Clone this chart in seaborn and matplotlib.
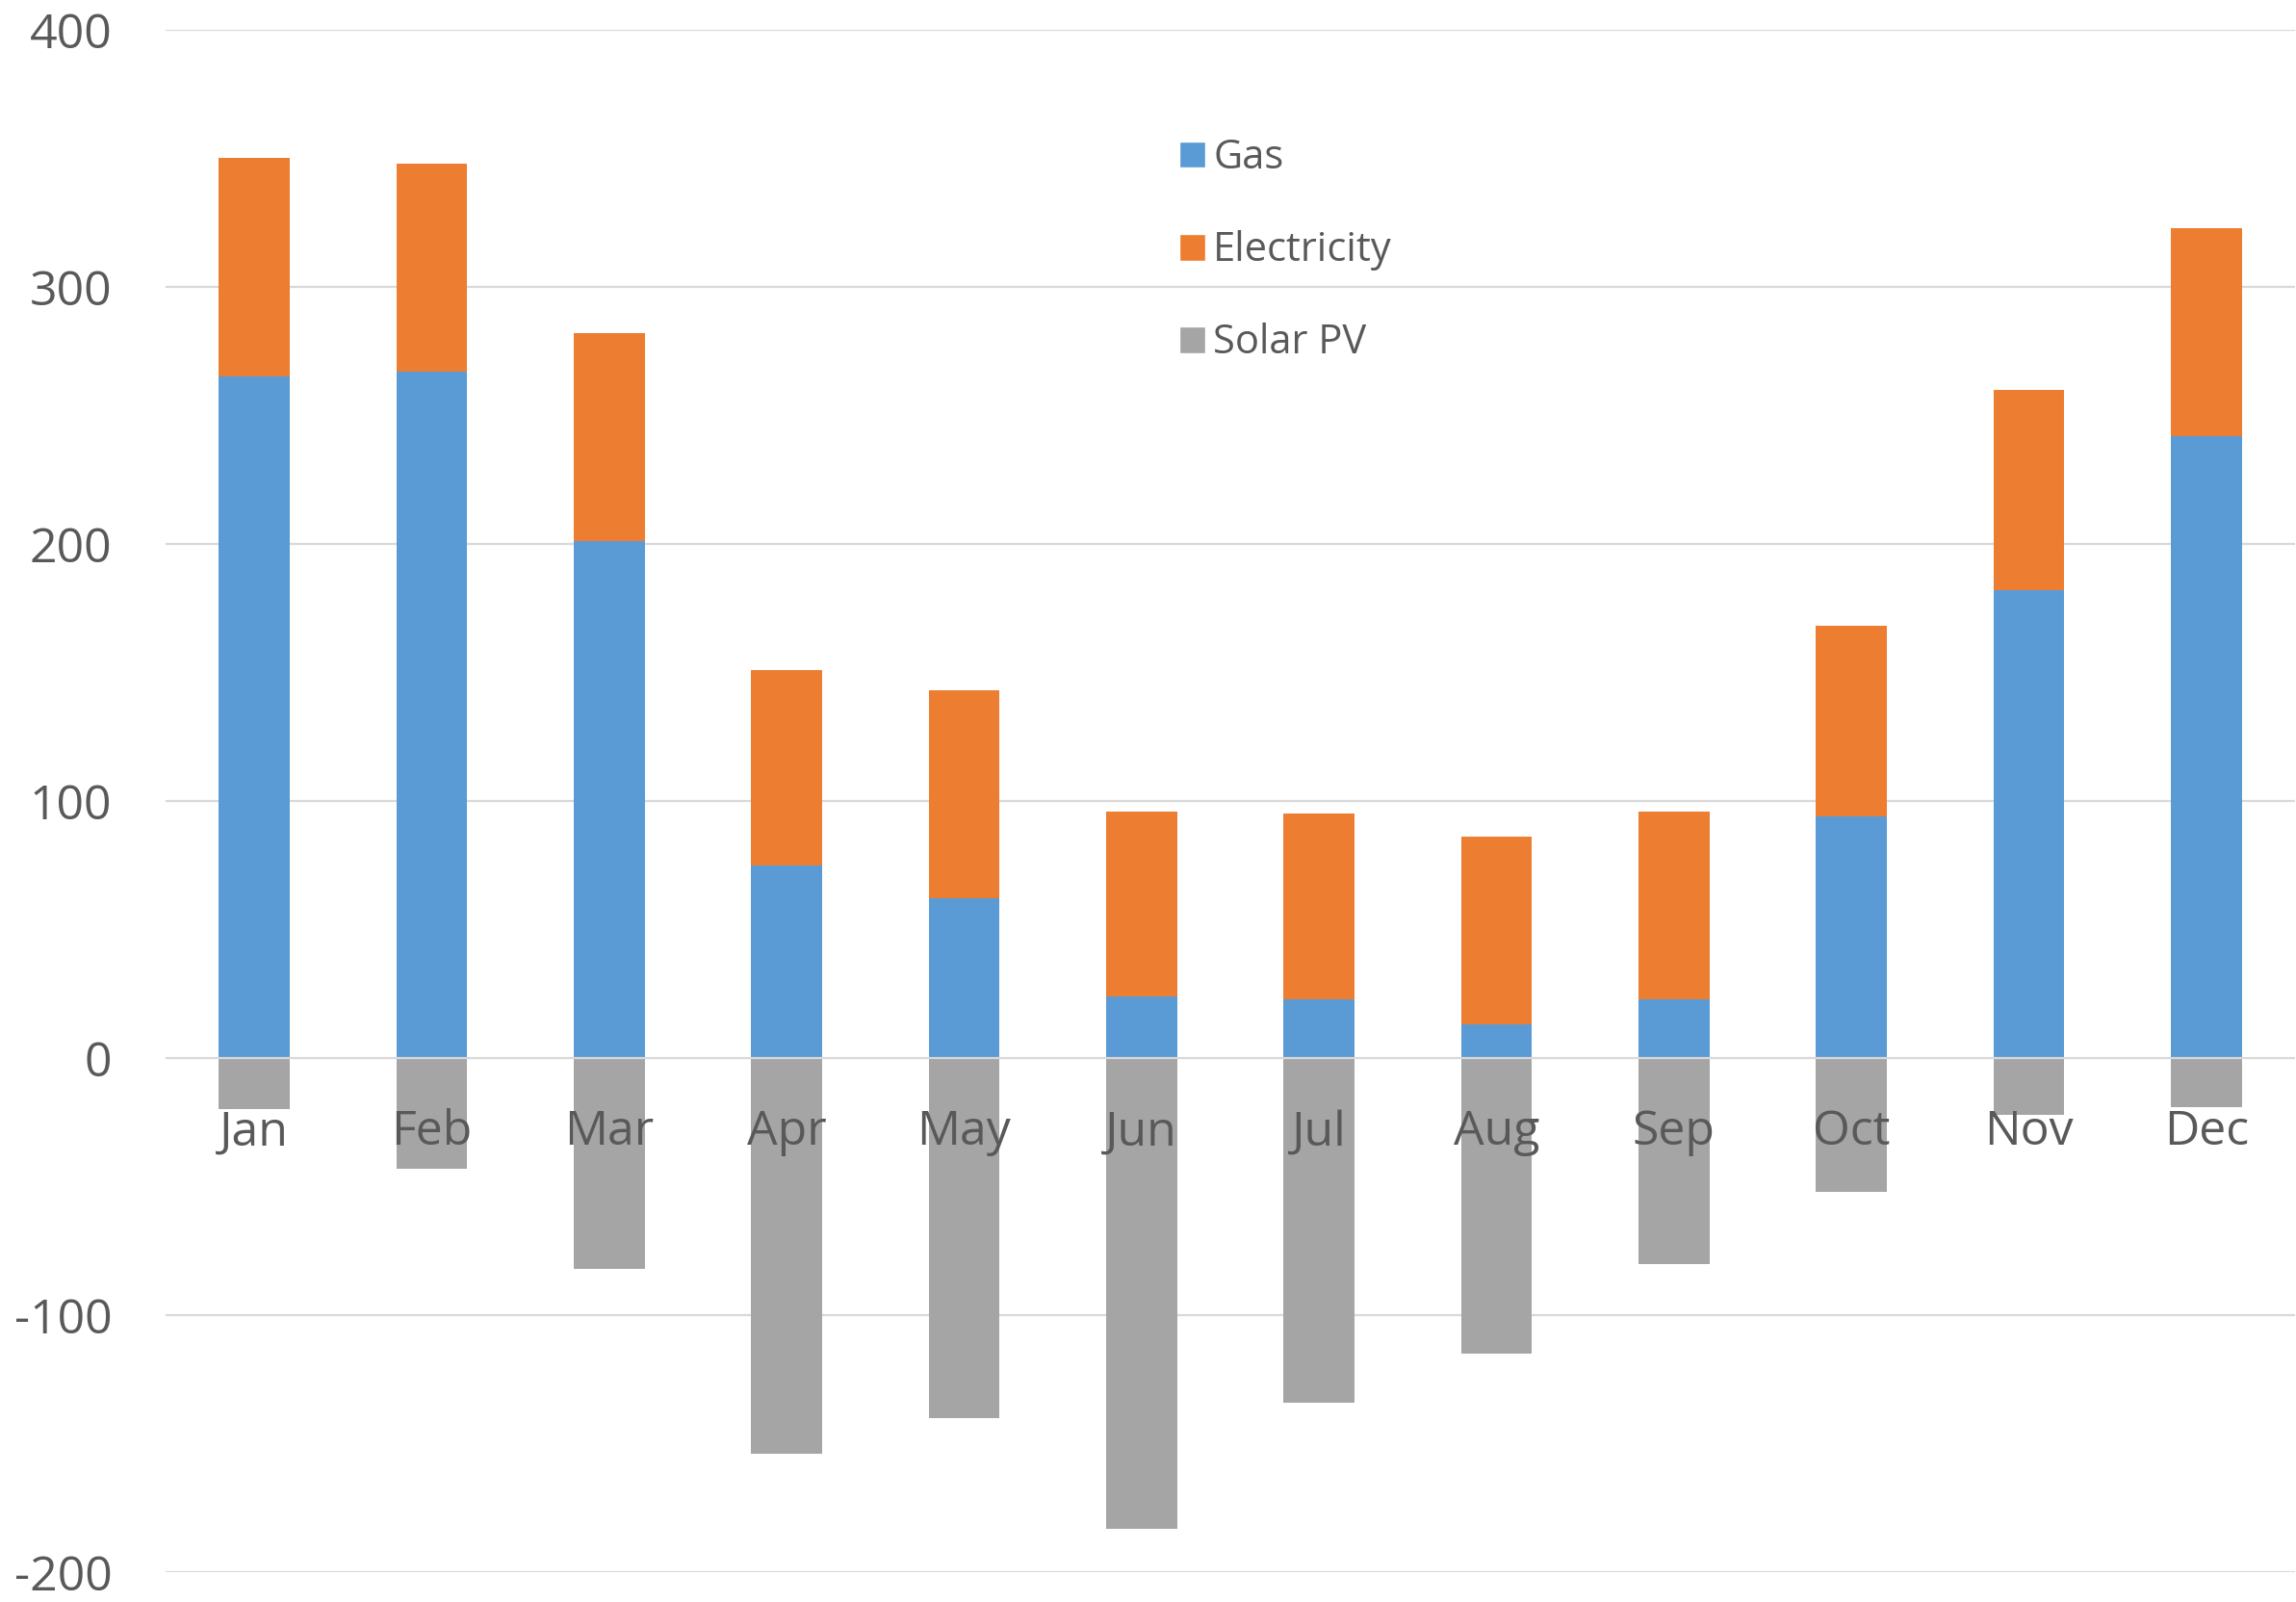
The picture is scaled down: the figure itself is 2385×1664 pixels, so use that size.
import matplotlib
matplotlib.use("Agg")
import matplotlib.pyplot as plt
from matplotlib.patches import Patch
import seaborn as sns

# Monthly energy balance (kWh): consumption stacked above zero, PV generation below
months = ["Jan", "Feb", "Mar", "Apr", "May", "Jun",
          "Jul", "Aug", "Sep", "Oct", "Nov", "Dec"]
gas = [265, 267, 201, 75, 62, 24, 23, 13, 23, 94, 182, 242]
electricity = [85, 81, 81, 76, 81, 72, 72, 73, 73, 74, 78, 81]
solar_pv = [-20, -43, -82, -154, -140, -183, -134, -115, -80, -52, -22, -19]

y_ticks = [-200, -100, 0, 100, 200, 300, 400]

GAS_C = "#5B9BD5"
ELEC_C = "#ED7D31"
PV_C = "#A5A5A5"
GRID_C = "#D9D9D9"
TEXT_C = "#595959"

sns.set_theme(style="white")
plt.rcParams["font.family"] = ["Open Sans", "DejaVu Sans"]
plt.rcParams["axes.unicode_minus"] = False

fig = plt.figure(figsize=(23.85, 16.64), dpi=100)
ax = fig.add_axes([0.0721, 0.0186, 0.9275, 0.9628])

consumption = [g + e for g, e in zip(gas, electricity)]

# Stack: full consumption in orange, gas drawn over its lower part
bar_kw = dict(saturation=1, width=0.4, ax=ax, zorder=2, linewidth=0)
sns.barplot(x=months, y=consumption, color=ELEC_C, **bar_kw)
sns.barplot(x=months, y=gas, color=GAS_C, **bar_kw)
sns.barplot(x=months, y=solar_pv, color=PV_C, **bar_kw)

ax.set_xlim(-0.5, 11.5)
ax.set_ylim(-200, 400)
ax.set_yticks(y_ticks)
ax.set_xlabel("")
ax.set_ylabel("")

# Horizontal gridlines behind bars, zero axis line over them
for yv in y_ticks:
    if yv != 0:
        ax.axhline(yv, color=GRID_C, lw=1.6, zorder=0)
ax.axhline(0, color=GRID_C, lw=1.6, zorder=2.6)

for s in ax.spines.values():
    s.set_visible(False)
ax.spines["bottom"].set_position(("data", 0))

ax.tick_params(axis="x", length=0, pad=38, labelsize=36, labelcolor=TEXT_C)
ax.tick_params(axis="y", length=0, pad=40, labelsize=36, labelcolor=TEXT_C)
ax.xaxis.set_zorder(3)

handles = [Patch(facecolor=GAS_C, label="Gas"),
           Patch(facecolor=ELEC_C, label="Electricity"),
           Patch(facecolor=PV_C, label="Solar PV")]
leg = ax.legend(handles=handles, loc="upper left",
                bbox_to_anchor=(0.4665, 0.943), frameon=False,
                fontsize=30, handlelength=0.65, handleheight=0.65,
                handletextpad=0.2, labelspacing=1.3, borderpad=0)
for t in leg.get_texts():
    t.set_color(TEXT_C)

fig.savefig("out.png", dpi=100, facecolor="white")
